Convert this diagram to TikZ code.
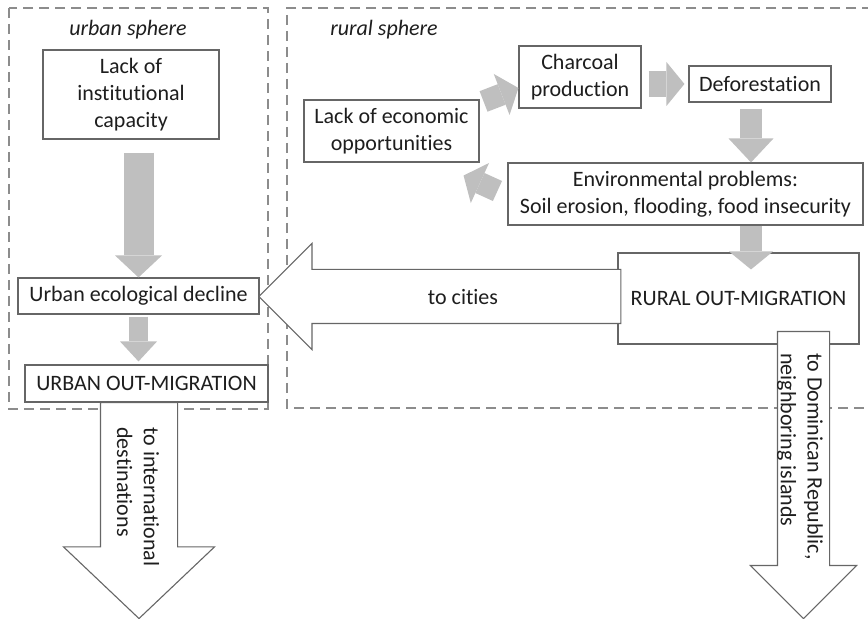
\documentclass[tikz,border=0pt]{standalone}
\usepackage{fontspec}
\setmainfont{Carlito}[Ligatures=NoCommon]
\usepackage{tikz}
\usetikzlibrary{arrows.meta,shapes.arrows}
\usepackage{xcolor}
\definecolor{arrowgray}{HTML}{BFBFBF}
\definecolor{dashgray}{HTML}{8C8C8C}
\definecolor{boxgray}{HTML}{666666}
\definecolor{txtgray}{HTML}{1E1E1E}

\begin{document}
\begin{tikzpicture}[x=0.5pt, y=-0.5pt,
  every node/.style={font=\fontsize{11}{13.4}\selectfont, text=txtgray},
  sphere/.style={draw=dashgray, line width=0.8pt, dash pattern=on 5pt off 3pt},
  box/.style={draw=boxgray, fill=white, line width=0.55pt, align=center, inner sep=0pt},
  grayarrow/.style={draw=arrowgray, line width=11pt, -{Triangle[width=22pt, length=9pt, line width=0pt]}},
  bigarrow/.style={draw=boxgray, fill=white, line width=0.55pt, single arrow, single arrow tip angle=90, inner xsep=0pt}]
\useasboundingbox (0,0) rectangle (868,619);
% the two spheres
\draw[sphere] (9,8) rectangle (268,409);
\draw[sphere] (872,8) -- (287,8) -- (287,408) -- (872,408);
\node[font=\fontsize{11}{13.4}\selectfont\itshape] (urbanlbl) at (128,30) {urban sphere};
\node[font=\fontsize{11}{13.4}\selectfont\itshape] (rurallbl) at (384,30) {rural sphere};

% urban sphere
\node[box, minimum width=88pt, minimum height=44.5pt] (lackinst) at (131,94.5) {Lack of\\institutional\\capacity};
\node[box, minimum width=120.5pt, minimum height=18pt] (ecodecl) at (138.5,296) {Urban ecological decline};
\node[box, minimum width=121.5pt, minimum height=18.5pt] (urbanout) at (146.5,383.5) {URBAN OUT-MIGRATION};
\draw[grayarrow, line width=15pt, -{Triangle[width=23.5pt, length=11pt, line width=0pt]}, shorten <=6.5pt] (lackinst.south -| ecodecl.north) -- (ecodecl.north);
\draw[grayarrow, line width=9.5pt, -{Triangle[width=18.5pt, length=10pt, line width=0pt]}, shorten <=1pt, shorten >=1.5pt] (ecodecl.south) -- (ecodecl.south |- urbanout.north);

% rural sphere
\node[box, minimum width=87.5pt, minimum height=31pt] (lackecon) at (391.5,131) {Lack of economic\\opportunities};
\node[box, minimum width=61pt, minimum height=31pt] (charcoal) at (580,77) {Charcoal\\production};
\node[box, minimum width=71pt, minimum height=18pt] (deforest) at (760,84) {Deforestation};
\node[box, minimum width=177.5pt, minimum height=31pt] (envprob) at (685.5,194) {Environmental problems:\\Soil erosion, flooding, food insecurity};
\node[box, minimum width=120.5pt, minimum height=45.5pt] (ruralout) at (738.5,298.5) {RURAL OUT-MIGRATION};
\draw[grayarrow] ([xshift=2pt,yshift=-1pt]lackecon.north east) -- ([yshift=-5.5pt]charcoal.west);
\draw[grayarrow, line width=13pt, shorten <=3.5pt, shorten >=2pt] (charcoal.east |- deforest.west) -- (deforest.west);
\draw[grayarrow, -{Triangle[width=22.5pt, length=12pt, line width=0pt]}, shorten <=3pt] ([xshift=-4.5pt]deforest.south) -- ([xshift=-4.5pt]deforest.south |- envprob.north);
\draw[grayarrow] ([xshift=-5pt,yshift=1.5pt]envprob.west) -- ([xshift=-8pt,yshift=-6.5pt]lackecon.south east);
\draw[grayarrow, shorten >=-8.5pt] ([xshift=-4.5pt]deforest.south |- envprob.south) -- ([xshift=-4.5pt]deforest.south |- ruralout.north);

% migration flows
\node[bigarrow, shape border rotate=180, minimum height=181pt, inner ysep=13.25pt, single arrow head extend=13pt, anchor=tail] (tocities) at ([xshift=2pt,yshift=1pt]ruralout.west) {};
\node (citieslbl) at (463,297) {to cities};
\node[bigarrow, rotate=-90, minimum height=108pt, inner ysep=19pt, single arrow head extend=18.5pt, single arrow tip angle=93, anchor=tail] (toworld) at (139,402) {};
\node[rotate=-90, align=left, anchor=west, inner sep=0pt] (worldlbl) at (138,427) {to international\\destinations};
\node[bigarrow, rotate=-90, minimum height=143.5pt, inner ysep=12.75pt, single arrow head extend=13.5pt, anchor=tail] (toisland) at (803.5,331) {};
\node[rotate=-90, align=left, anchor=west, inner sep=0pt] (islandlbl) at (800,353) {to Dominican Republic,\\neighboring islands};
\end{tikzpicture}
\end{document}
